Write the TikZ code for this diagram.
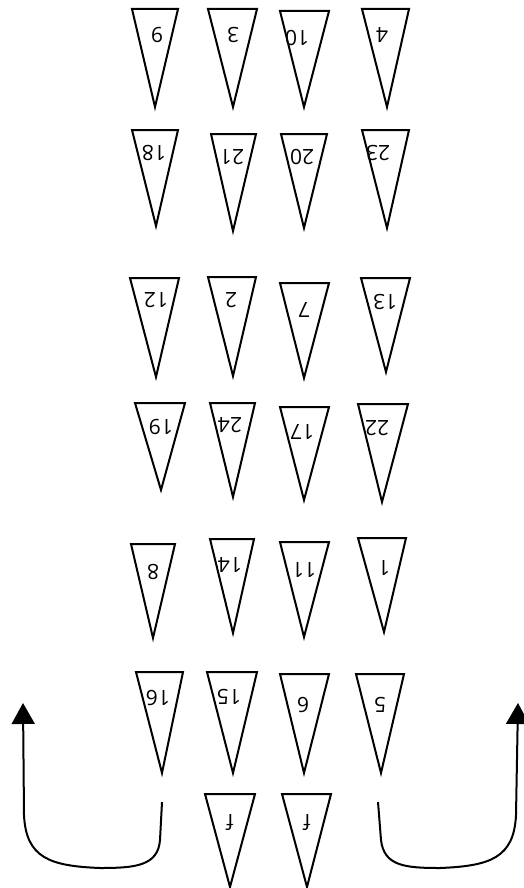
\documentclass[tikz,border=0pt]{standalone}
\usepackage{fontspec}
\setmainfont{Open Sans}
\usetikzlibrary{arrows.meta}

\tikzset{
  pennant/.style={draw,line width=2pt,line join=miter},
  flipnum/.style={rotate=180,inner sep=0pt,font=\fontsize{21}{21}\selectfont},
  turnarrow/.style={line width=2pt,-{Triangle[length=21pt,width=23pt]}}
}

\begin{document}
\begin{tikzpicture}[x=1pt,y=-1pt]
\useasboundingbox (0,0) rectangle (523,888);
% pennants: left, right, top, apex x, apex y, label x, label y, text
\foreach \xl/\xr/\yt/\xa/\ya/\lx/\ly/\txt [count=\i] in {
  132/178/9/155/107/157/35/9, 208/257/9/233/107/233/35/3,
  280/329/11/304/107/297/38/10, 362/409/9/387/107/382/35/4,
  132/178/130/156/226/154/153/18, 211/256/134/233/231/232/157/21,
  281/327/134/304/228/302/157/20, 362/409/130/387/228/378/153/23,
  130/179/278/156/377/156/300/12, 208/256/277/233/376/231/300/2,
  280/329/283/304/378/304/310/7, 361/410/278/386/372/385/302/13,
  135/185/403/161/490/161/427/19, 210/255/403/233/497/230/425/24,
  280/329/407/304/500/302/432/17, 358/408/404/382/502/377/428/22,
  131/175/544/153/638/153/572/8, 210/254/539/233/633/230/565/14,
  280/329/542/304/637/304/570/11, 358/406/538/384/632/384/568/1,
  136/183/672/162/773/158/698/16, 207/257/672/233/773/229/697/15,
  280/329/674/304/773/303/705/6, 356/404/674/381/773/380/705/5,
  205/255/794/230/887/230/823/f, 282/331/794/307/887/307/823/f}{
  \draw[pennant] (\xl,\yt) -- (\xr,\yt) -- (\xa,\ya) -- cycle;
  \node[flipnum] (p\i) at (\lx,\ly) {\txt};
}
\coordinate (lfoot) at (162,802);
\coordinate (ltip) at (23,703);
\coordinate (rfoot) at (378,802);
\coordinate (rtip) at (518,703);
\draw[turnarrow] (lfoot) -- (160,840) .. controls (158,866) and (135,868) .. (100,868)
  .. controls (50,866) and (26,858) .. (24,815) -- (ltip);
\draw[turnarrow] (rfoot) -- (381,840) .. controls (384,866) and (405,868) .. (440,868)
  .. controls (490,866) and (514,858) .. (516,815) -- (rtip);
\end{tikzpicture}
\end{document}
